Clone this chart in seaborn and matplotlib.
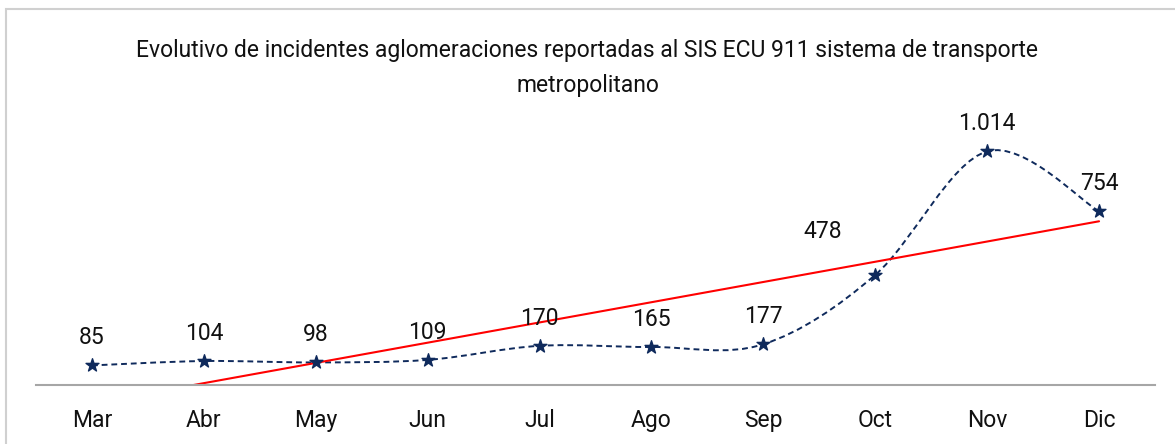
import numpy as np
import matplotlib
matplotlib.use("Agg")
import matplotlib.pyplot as plt
from matplotlib.path import Path
from matplotlib.patches import PathPatch, Rectangle
import seaborn as sns
import pandas as pd

months = ["Mar", "Abr", "May", "Jun", "Jul", "Ago", "Sep", "Oct", "Nov", "Dic"]
incidents = [85, 104, 98, 109, 170, 165, 177, 478, 1014, 754]

title = ("Evolutivo de incidentes aglomeraciones reportadas al SIS ECU 911 sistema de transporte\n"
         "metropolitano")

NAVY = "#0f2a5c"
RED = "#ff0000"

sns.set_theme(style="white")
plt.rcParams["font.family"] = ["Liberation Sans Narrow", "Roboto", "DejaVu Sans"]

df = pd.DataFrame({"x": np.arange(len(months)), "y": incidents})


def smooth_path(xs, ys):
    # excel-style smoothed line: cubic bezier segments with 1/6 tension
    pts = np.column_stack([xs, ys]).astype(float)
    ext = np.vstack([pts[0], pts, pts[-1]])
    verts = [pts[0]]
    codes = [Path.MOVETO]
    for i in range(len(pts) - 1):
        p0, p1, p2, p3 = ext[i], ext[i + 1], ext[i + 2], ext[i + 3]
        verts += [p1 + (p2 - p0) / 6, p2 - (p3 - p1) / 6, p2]
        codes += [Path.CURVE4] * 3
    return Path(verts, codes)


fig = plt.figure(figsize=(11.75, 4.44), dpi=100)
ax = fig.add_axes([36 / 1175, 59 / 444, (1155 - 36) / 1175, (385 - 100) / 444])

# trend line (linear fit)
slope, icpt = np.polyfit(df["x"], df["y"], 1)
df["trend"] = slope * df["x"] + icpt
sns.lineplot(data=df, x="x", y="trend", ax=ax, color=RED, lw=1.5)

ax.add_patch(PathPatch(smooth_path(df["x"], df["y"]), fill=False, edgecolor=NAVY,
                       lw=1.4, linestyle=(0, (3, 2))))
sns.scatterplot(data=df, x="x", y="y", ax=ax, marker="*", s=95, color=NAVY,
                edgecolor=NAVY, linewidth=1.0, zorder=5)

label_offsets = {"Oct": (-38, 31)}
for m, xi, v in zip(months, df["x"], incidents):
    txt = f"{v:,}".replace(",", ".")
    off = label_offsets.get(m, (0, 20))
    ax.annotate(txt, (xi, v), xytext=off, textcoords="offset points",
                ha="center", va="center", fontsize=16.5, color="#111111")

ax.set_xlim(-0.5, len(months) - 0.5)
ax.set_ylim(0, 1237)
ax.set_xticks(df["x"])
ax.set_xticklabels(months, fontsize=16.5, color="#111111")
ax.set_yticks([])
ax.set_xlabel("")
ax.set_ylabel("")
ax.tick_params(axis="x", length=0, pad=17)
for s in ["top", "right", "left"]:
    ax.spines[s].set_visible(False)
ax.spines["bottom"].set_color("#a6a6a6")
ax.spines["bottom"].set_linewidth(1.5)

fig.text(0.5, 1 - 68 / 444, title, ha="center", va="center", fontsize=16.5,
         color="#111111", linespacing=1.7)

fig.add_artist(Rectangle((6 / 1175, -0.1), 1.2, 1.1 - 9 / 444, transform=fig.transFigure,
                         fill=False, edgecolor="#d0d0d0", lw=1.5))

fig.savefig("out.png", dpi=100)
